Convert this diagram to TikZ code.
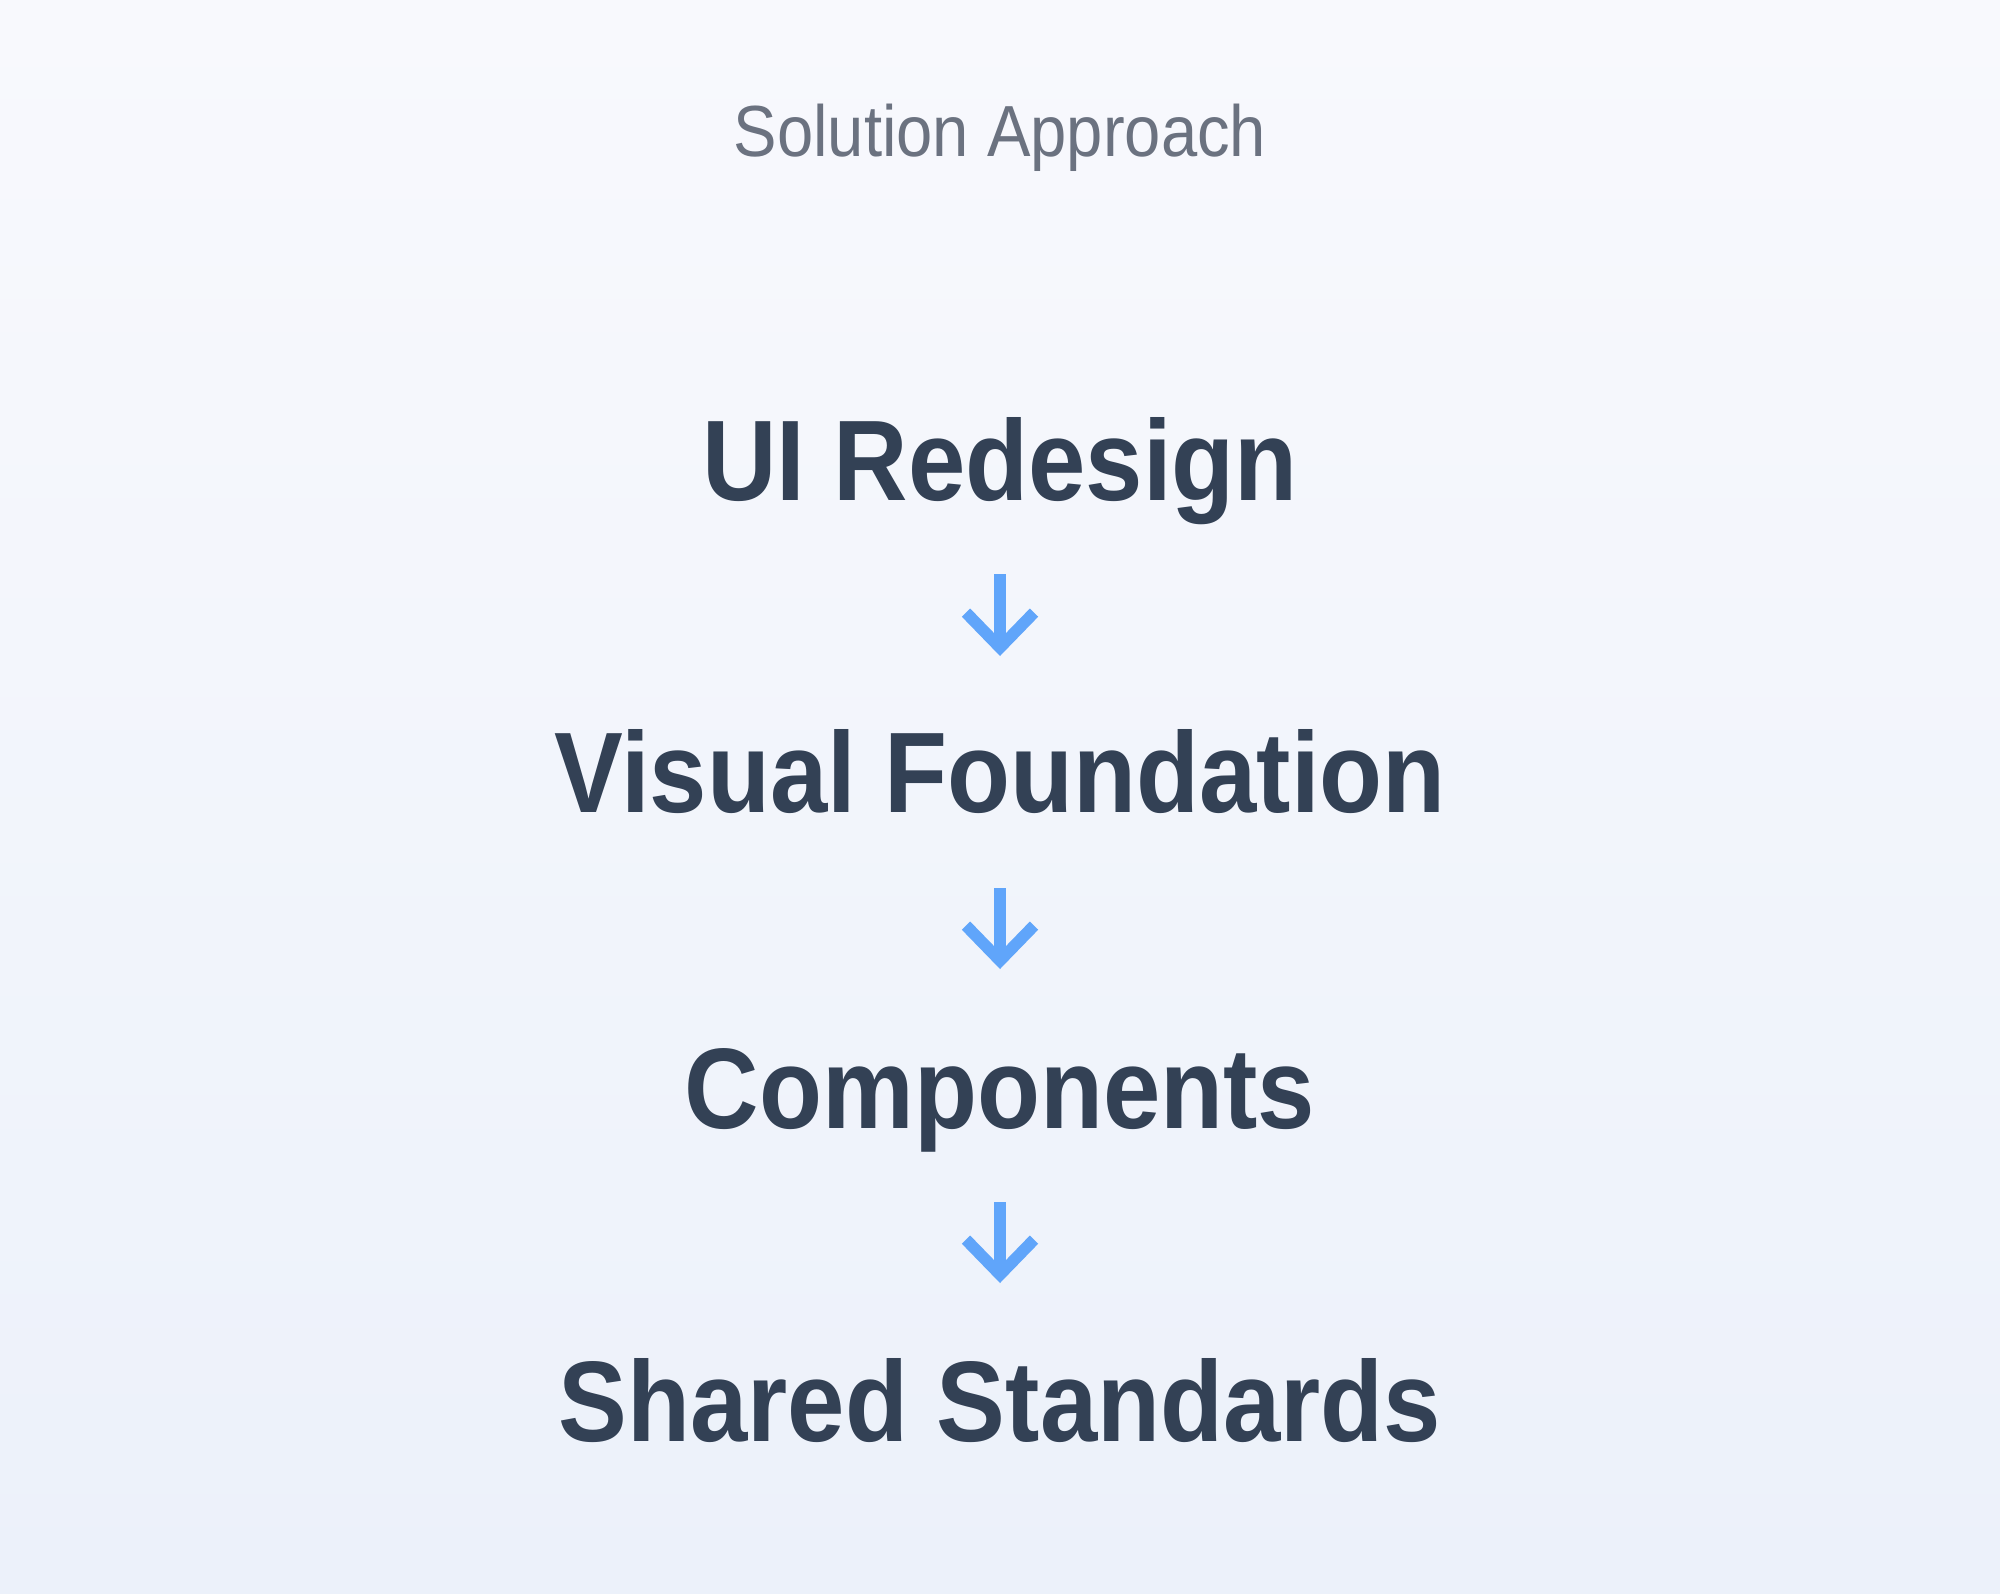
\documentclass[tikz,border=0pt]{standalone}
\usepackage{fontspec}
\setmainfont[FakeStretch=0.9]{Liberation Sans}
\usetikzlibrary{arrows.meta}
\definecolor{bgtop}{HTML}{F8F9FD}
\definecolor{bgbottom}{HTML}{ECF1FA}
\definecolor{titlegray}{HTML}{6B7280}
\definecolor{headslate}{HTML}{334155}
\definecolor{arrowblue}{HTML}{60A5FA}
\tikzset{
  title/.style={text=titlegray, font=\fontsize{20.6}{25}\selectfont, anchor=base, inner sep=0pt},
  head/.style={text=headslate, font=\fontsize{32.6}{39}\selectfont\bfseries, anchor=base, inner sep=0pt},
  flow/.style={draw=arrowblue, line width=0.117cm, -{Straight Barb[length=0.35cm, width=0.68cm]}}
}
\begin{document}
\begin{tikzpicture}
      \shade[top color=bgtop, bottom color=bgbottom] (0,0) rectangle (20,-15.93);
      \useasboundingbox (0,0) rectangle (20,-15.93);
      \node[title] (approach) at (10,-1.56) {Solution Approach};
      \node[head] (redesign) at (10,-5.00) {UI Redesign};
      \node[head] (foundation) at (10,-8.12) {Visual Foundation};
      \node[head] (components) at (10,-11.28) {Components};
      \node[head] (standards) at (10,-14.41) {Shared Standards};
      \draw[flow] ([yshift=-0.74cm]redesign.base) -- ([yshift=1.56cm]foundation.base);
      \draw[flow] ([yshift=-0.76cm]foundation.base) -- ([yshift=1.59cm]components.base);
      \draw[flow] ([yshift=-0.74cm]components.base) -- ([yshift=1.58cm]standards.base);
    \end{tikzpicture}
\end{document}
